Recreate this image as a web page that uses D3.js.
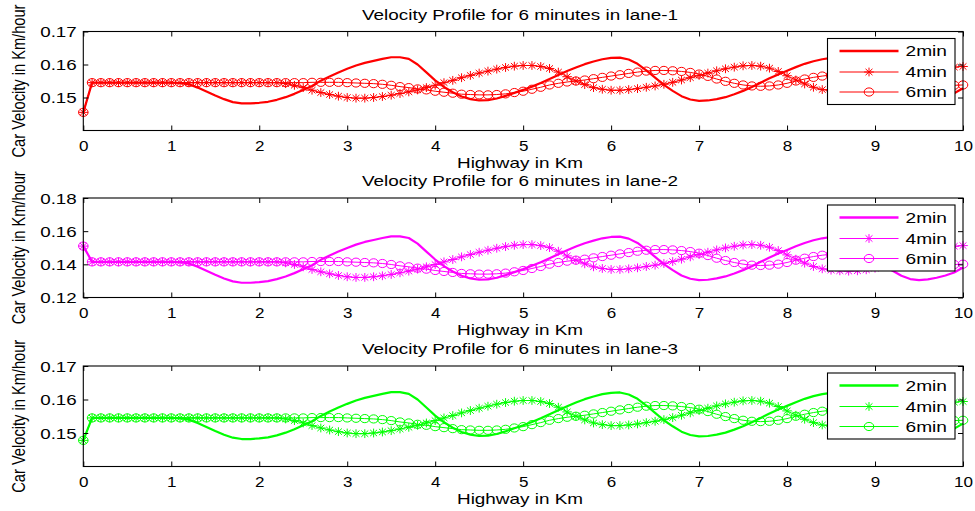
<!DOCTYPE html>
<html>
<head>
<meta charset="utf-8">
<script src="https://cdn.jsdelivr.net/npm/d3@7"></script>
<style>
  html, body { margin: 0; padding: 0; background: #fff; }
  svg { display: block; }
  text { font-family: "Liberation Sans", Arial, Helvetica, sans-serif; fill: #000; }
</style>
</head>
<body>
<svg id="chart" width="975" height="511"></svg>
<script>
// ---- data -------------------------------------------------------------
// Distance along the highway, one sample every 0.1 km
const distanceKm = d3.range(101).map(i => i / 10);
const xTicks = [0, 1, 2, 3, 4, 5, 6, 7, 8, 9, 10];
const seriesNames = ["2min", "4min", "6min"];
const laneTitles = [
  "Velocity Profile for 6 minutes in lane-1",
  "Velocity Profile for 6 minutes in lane-2",
  "Velocity Profile for 6 minutes in lane-3"
];
const laneColors = ["#ff0000", "#ff00ff", "#00ff00"];
const lane1YDomain = [0.14, 0.17];
const lane2YDomain = [0.12, 0.18];
const lane3YDomain = [0.14, 0.17];
const lane1YTicks = [0.15, 0.16, 0.17];
const lane2YTicks = [0.12, 0.14, 0.16, 0.18];
const lane3YTicks = [0.15, 0.16, 0.17];

// Lane 1 velocities (km/hour)
const lane1Min2 = [
  0.1455, 0.1545, 0.1545, 0.1545, 0.1545, 0.1545, 0.1545, 0.1545, 0.1545, 0.1545,
  0.1545, 0.1544, 0.1540, 0.1530, 0.1518, 0.1506, 0.1495, 0.1486, 0.1482, 0.1482,
  0.1484, 0.1487, 0.1493, 0.1501, 0.1511, 0.1523, 0.1535, 0.1551, 0.1564, 0.1576,
  0.1587, 0.1597, 0.1605, 0.1611, 0.1617, 0.1622, 0.1622, 0.1617, 0.1600, 0.1576,
  0.1552, 0.1532, 0.1516, 0.1503, 0.1495, 0.1491, 0.1492, 0.1497, 0.1505, 0.1514,
  0.1523, 0.1533, 0.1544, 0.1556, 0.1568, 0.1580, 0.1591, 0.1601, 0.1609, 0.1616,
  0.1620, 0.1621, 0.1615, 0.1602, 0.1582, 0.1560, 0.1538, 0.1520, 0.1504, 0.1494,
  0.1490, 0.1491, 0.1495, 0.1501, 0.1510, 0.1520, 0.1532, 0.1545, 0.1558, 0.1570,
  0.1581, 0.1592, 0.1602, 0.1610, 0.1616, 0.1620, 0.1619, 0.1613, 0.1598, 0.1577,
  0.1555, 0.1535, 0.1518, 0.1503, 0.1493, 0.1490, 0.1492, 0.1497, 0.1504, 0.1513,
  0.1528
];
const lane1Min4 = [
  0.1455, 0.1545, 0.1545, 0.1545, 0.1545, 0.1545, 0.1545, 0.1545, 0.1545, 0.1545,
  0.1545, 0.1545, 0.1545, 0.1545, 0.1545, 0.1545, 0.1545, 0.1545, 0.1545, 0.1545,
  0.1545, 0.1545, 0.1545, 0.1542, 0.1537, 0.1530, 0.1522, 0.1515, 0.1509, 0.1504,
  0.1500, 0.1498, 0.1498, 0.1500, 0.1503, 0.1507, 0.1512, 0.1517, 0.1523, 0.1530,
  0.1537, 0.1545, 0.1552, 0.1560, 0.1567, 0.1574, 0.1580, 0.1586, 0.1591, 0.1595,
  0.1597, 0.1597, 0.1594, 0.1588, 0.1577, 0.1563, 0.1550, 0.1539, 0.1530, 0.1525,
  0.1522, 0.1522, 0.1524, 0.1527, 0.1531, 0.1535, 0.1540, 0.1546, 0.1553, 0.1560,
  0.1567, 0.1574, 0.1581, 0.1587, 0.1592, 0.1596, 0.1597, 0.1595, 0.1589, 0.1579,
  0.1566, 0.1553, 0.1541, 0.1531, 0.1524, 0.1520, 0.1518, 0.1517, 0.1518, 0.1521,
  0.1526, 0.1533, 0.1541, 0.1550, 0.1559, 0.1567, 0.1575, 0.1582, 0.1588, 0.1592,
  0.1594
];
const lane1Min6 = [
  0.1455, 0.1545, 0.1545, 0.1545, 0.1545, 0.1545, 0.1545, 0.1545, 0.1545, 0.1545,
  0.1545, 0.1545, 0.1545, 0.1545, 0.1545, 0.1545, 0.1545, 0.1545, 0.1545, 0.1545,
  0.1545, 0.1545, 0.1545, 0.1545, 0.1545, 0.1545, 0.1546, 0.1546, 0.1546, 0.1546,
  0.1545, 0.1544, 0.1543, 0.1542, 0.1540, 0.1537, 0.1533, 0.1530, 0.1526, 0.1523,
  0.1519, 0.1516, 0.1513, 0.1510, 0.1509, 0.1508, 0.1508, 0.1509, 0.1511, 0.1515,
  0.1519, 0.1525, 0.1531, 0.1538, 0.1543, 0.1547, 0.1550, 0.1553, 0.1557, 0.1561,
  0.1565, 0.1569, 0.1573, 0.1577, 0.1580, 0.1582, 0.1582, 0.1581, 0.1579, 0.1576,
  0.1571, 0.1564, 0.1556, 0.1549, 0.1543, 0.1538, 0.1535, 0.1534, 0.1535, 0.1538,
  0.1543, 0.1550, 0.1556, 0.1561, 0.1565, 0.1568, 0.1570, 0.1570, 0.1567, 0.1562,
  0.1556, 0.1550, 0.1545, 0.1541, 0.1538, 0.1536, 0.1535, 0.1535, 0.1536, 0.1537,
  0.1538
];

// Lane 2 velocities (km/hour)
const lane2Min2 = [
  0.1510, 0.1415, 0.1415, 0.1415, 0.1415, 0.1415, 0.1415, 0.1415, 0.1415, 0.1415,
  0.1415, 0.1413, 0.1405, 0.1385, 0.1361, 0.1337, 0.1315, 0.1297, 0.1289, 0.1289,
  0.1293, 0.1299, 0.1311, 0.1327, 0.1347, 0.1371, 0.1395, 0.1427, 0.1453, 0.1477,
  0.1499, 0.1519, 0.1535, 0.1547, 0.1559, 0.1569, 0.1569, 0.1559, 0.1525, 0.1477,
  0.1429, 0.1389, 0.1357, 0.1331, 0.1315, 0.1307, 0.1309, 0.1319, 0.1335, 0.1353,
  0.1371, 0.1391, 0.1413, 0.1437, 0.1461, 0.1485, 0.1507, 0.1527, 0.1543, 0.1557,
  0.1565, 0.1567, 0.1555, 0.1529, 0.1489, 0.1445, 0.1401, 0.1365, 0.1333, 0.1313,
  0.1305, 0.1307, 0.1315, 0.1327, 0.1345, 0.1365, 0.1389, 0.1415, 0.1441, 0.1465,
  0.1487, 0.1509, 0.1529, 0.1545, 0.1557, 0.1565, 0.1563, 0.1551, 0.1521, 0.1479,
  0.1435, 0.1395, 0.1361, 0.1331, 0.1311, 0.1305, 0.1309, 0.1319, 0.1333, 0.1351,
  0.1381
];
const lane2Min4 = [
  0.1510, 0.1415, 0.1415, 0.1415, 0.1415, 0.1415, 0.1415, 0.1415, 0.1415, 0.1415,
  0.1415, 0.1415, 0.1415, 0.1415, 0.1415, 0.1415, 0.1415, 0.1415, 0.1415, 0.1415,
  0.1415, 0.1415, 0.1415, 0.1409, 0.1399, 0.1385, 0.1369, 0.1355, 0.1343, 0.1333,
  0.1325, 0.1321, 0.1321, 0.1325, 0.1331, 0.1339, 0.1349, 0.1359, 0.1371, 0.1385,
  0.1399, 0.1415, 0.1429, 0.1445, 0.1459, 0.1473, 0.1485, 0.1497, 0.1507, 0.1515,
  0.1519, 0.1519, 0.1513, 0.1501, 0.1479, 0.1451, 0.1425, 0.1403, 0.1385, 0.1375,
  0.1369, 0.1369, 0.1373, 0.1379, 0.1387, 0.1395, 0.1405, 0.1417, 0.1431, 0.1445,
  0.1459, 0.1473, 0.1487, 0.1499, 0.1509, 0.1517, 0.1519, 0.1515, 0.1503, 0.1483,
  0.1457, 0.1431, 0.1407, 0.1387, 0.1373, 0.1365, 0.1361, 0.1359, 0.1361, 0.1367,
  0.1377, 0.1391, 0.1407, 0.1425, 0.1443, 0.1459, 0.1475, 0.1489, 0.1501, 0.1509,
  0.1513
];
const lane2Min6 = [
  0.1510, 0.1415, 0.1415, 0.1415, 0.1415, 0.1415, 0.1415, 0.1415, 0.1415, 0.1415,
  0.1415, 0.1415, 0.1415, 0.1415, 0.1415, 0.1415, 0.1415, 0.1415, 0.1415, 0.1415,
  0.1415, 0.1415, 0.1415, 0.1415, 0.1415, 0.1415, 0.1417, 0.1417, 0.1417, 0.1417,
  0.1415, 0.1413, 0.1411, 0.1409, 0.1405, 0.1399, 0.1391, 0.1385, 0.1377, 0.1371,
  0.1363, 0.1357, 0.1351, 0.1345, 0.1343, 0.1341, 0.1341, 0.1343, 0.1347, 0.1355,
  0.1363, 0.1375, 0.1387, 0.1401, 0.1411, 0.1419, 0.1425, 0.1431, 0.1439, 0.1447,
  0.1455, 0.1463, 0.1471, 0.1479, 0.1485, 0.1489, 0.1489, 0.1487, 0.1483, 0.1477,
  0.1467, 0.1453, 0.1437, 0.1423, 0.1411, 0.1401, 0.1395, 0.1393, 0.1395, 0.1401,
  0.1411, 0.1425, 0.1437, 0.1447, 0.1455, 0.1461, 0.1465, 0.1465, 0.1459, 0.1449,
  0.1437, 0.1425, 0.1415, 0.1407, 0.1401, 0.1397, 0.1395, 0.1395, 0.1397, 0.1399,
  0.1401
];

// Lane 3 velocities (km/hour)
const lane3Min2 = [
  0.1478, 0.1545, 0.1545, 0.1545, 0.1545, 0.1545, 0.1545, 0.1545, 0.1545, 0.1545,
  0.1545, 0.1544, 0.1540, 0.1530, 0.1518, 0.1506, 0.1495, 0.1486, 0.1482, 0.1482,
  0.1484, 0.1487, 0.1493, 0.1501, 0.1511, 0.1523, 0.1535, 0.1551, 0.1564, 0.1576,
  0.1587, 0.1597, 0.1605, 0.1611, 0.1617, 0.1622, 0.1622, 0.1617, 0.1600, 0.1576,
  0.1552, 0.1532, 0.1516, 0.1503, 0.1495, 0.1491, 0.1492, 0.1497, 0.1505, 0.1514,
  0.1523, 0.1533, 0.1544, 0.1556, 0.1568, 0.1580, 0.1591, 0.1601, 0.1609, 0.1616,
  0.1620, 0.1621, 0.1615, 0.1602, 0.1582, 0.1560, 0.1538, 0.1520, 0.1504, 0.1494,
  0.1490, 0.1491, 0.1495, 0.1501, 0.1510, 0.1520, 0.1532, 0.1545, 0.1558, 0.1570,
  0.1581, 0.1592, 0.1602, 0.1610, 0.1616, 0.1620, 0.1619, 0.1613, 0.1598, 0.1577,
  0.1555, 0.1535, 0.1518, 0.1503, 0.1493, 0.1490, 0.1492, 0.1497, 0.1504, 0.1513,
  0.1528
];
const lane3Min4 = [
  0.1478, 0.1545, 0.1545, 0.1545, 0.1545, 0.1545, 0.1545, 0.1545, 0.1545, 0.1545,
  0.1545, 0.1545, 0.1545, 0.1545, 0.1545, 0.1545, 0.1545, 0.1545, 0.1545, 0.1545,
  0.1545, 0.1545, 0.1545, 0.1542, 0.1537, 0.1530, 0.1522, 0.1515, 0.1509, 0.1504,
  0.1500, 0.1498, 0.1498, 0.1500, 0.1503, 0.1507, 0.1512, 0.1517, 0.1523, 0.1530,
  0.1537, 0.1545, 0.1552, 0.1560, 0.1567, 0.1574, 0.1580, 0.1586, 0.1591, 0.1595,
  0.1597, 0.1597, 0.1594, 0.1588, 0.1577, 0.1563, 0.1550, 0.1539, 0.1530, 0.1525,
  0.1522, 0.1522, 0.1524, 0.1527, 0.1531, 0.1535, 0.1540, 0.1546, 0.1553, 0.1560,
  0.1567, 0.1574, 0.1581, 0.1587, 0.1592, 0.1596, 0.1597, 0.1595, 0.1589, 0.1579,
  0.1566, 0.1553, 0.1541, 0.1531, 0.1524, 0.1520, 0.1518, 0.1517, 0.1518, 0.1521,
  0.1526, 0.1533, 0.1541, 0.1550, 0.1559, 0.1567, 0.1575, 0.1582, 0.1588, 0.1592,
  0.1594
];
const lane3Min6 = [
  0.1478, 0.1545, 0.1545, 0.1545, 0.1545, 0.1545, 0.1545, 0.1545, 0.1545, 0.1545,
  0.1545, 0.1545, 0.1545, 0.1545, 0.1545, 0.1545, 0.1545, 0.1545, 0.1545, 0.1545,
  0.1545, 0.1545, 0.1545, 0.1545, 0.1545, 0.1545, 0.1546, 0.1546, 0.1546, 0.1546,
  0.1545, 0.1544, 0.1543, 0.1542, 0.1540, 0.1537, 0.1533, 0.1530, 0.1526, 0.1523,
  0.1519, 0.1516, 0.1513, 0.1510, 0.1509, 0.1508, 0.1508, 0.1509, 0.1511, 0.1515,
  0.1519, 0.1525, 0.1531, 0.1538, 0.1543, 0.1547, 0.1550, 0.1553, 0.1557, 0.1561,
  0.1565, 0.1569, 0.1573, 0.1577, 0.1580, 0.1582, 0.1582, 0.1581, 0.1579, 0.1576,
  0.1571, 0.1564, 0.1556, 0.1549, 0.1543, 0.1538, 0.1535, 0.1534, 0.1535, 0.1538,
  0.1543, 0.1550, 0.1556, 0.1561, 0.1565, 0.1568, 0.1570, 0.1570, 0.1567, 0.1562,
  0.1556, 0.1550, 0.1545, 0.1541, 0.1538, 0.1536, 0.1535, 0.1535, 0.1536, 0.1537,
  0.1538
];

// ---- layout -----------------------------------------------------------
const svg = d3.select("#chart");
const plotLeft = 83.3, plotRight = 963;
const x = d3.scaleLinear().domain([0, 10]).range([plotLeft, plotRight]);
const fontFamily = '"Liberation Sans", Arial, Helvetica, sans-serif';

const lanes = [
  { title: laneTitles[0], color: laneColors[0], series: [lane1Min2, lane1Min4, lane1Min6],
    yDomain: lane1YDomain, yTicks: lane1YTicks, top: 31.5, bottom: 130.5 },
  { title: laneTitles[1], color: laneColors[1], series: [lane2Min2, lane2Min4, lane2Min6],
    yDomain: lane2YDomain, yTicks: lane2YTicks, top: 198, bottom: 297.5 },
  { title: laneTitles[2], color: laneColors[2], series: [lane3Min2, lane3Min4, lane3Min6],
    yDomain: lane3YDomain, yTicks: lane3YTicks, top: 366, bottom: 466.5 }
];

// asterisk marker, slightly wider than tall
function starPath(rx, ry) {
  const ax = rx * 0.72, ay = ry * 0.72;
  return `M${-rx},0H${rx}M0,${-ry}V${ry}M${-ax},${-ay}L${ax},${ay}M${-ax},${ay}L${ax},${-ay}`;
}
const STAR = starPath(4.8, 4.4);

function styleAxis(g) {
  g.attr("font-family", fontFamily).attr("font-size", 14.5);
  g.select(".domain").remove();
  g.selectAll(".tick line").attr("stroke", "#000").attr("stroke-width", 1);
  g.selectAll(".tick text").attr("fill", "#000");
}

lanes.forEach(lane => {
  const y = d3.scaleLinear().domain(lane.yDomain).range([lane.bottom, lane.top]);
  const g = svg.append("g");
  const midY = (lane.top + lane.bottom) / 2;
  const midX = 520;

  // series curves
  const line = d3.line()
    .x((d, i) => x(distanceKm[i]))
    .y(d => y(d));

  g.append("path").datum(lane.series[0])
    .attr("d", line).attr("fill", "none")
    .attr("stroke", lane.color).attr("stroke-width", 2.2)
    .attr("stroke-linejoin", "round");

  g.append("path").datum(lane.series[1])
    .attr("d", line).attr("fill", "none")
    .attr("stroke", lane.color).attr("stroke-width", 1);
  g.append("g").selectAll("path").data(lane.series[1]).join("path")
    .attr("transform", (d, i) => `translate(${x(distanceKm[i])},${y(d)})`)
    .attr("d", STAR).attr("fill", "none")
    .attr("stroke", lane.color).attr("stroke-width", 1);

  g.append("path").datum(lane.series[2])
    .attr("d", line).attr("fill", "none")
    .attr("stroke", lane.color).attr("stroke-width", 1);
  g.append("g").selectAll("ellipse").data(lane.series[2]).join("ellipse")
    .attr("cx", (d, i) => x(distanceKm[i]))
    .attr("cy", d => y(d))
    .attr("rx", 4.8).attr("ry", 4.1)
    .attr("fill", "none").attr("stroke", lane.color).attr("stroke-width", 1);

  // axes box
  g.append("rect")
    .attr("x", plotLeft).attr("y", lane.top)
    .attr("width", plotRight - plotLeft).attr("height", lane.bottom - lane.top)
    .attr("fill", "none").attr("stroke", "#000").attr("stroke-width", 1.1);

  // bottom axis with labels, inward ticks
  const gb = g.append("g").attr("transform", `translate(0,${lane.bottom})`)
    .call(d3.axisBottom(x).tickValues(xTicks).tickSizeInner(-5).tickSizeOuter(0)
      .tickFormat(d3.format("d")));
  styleAxis(gb);
  gb.selectAll(".tick text")
    .attr("y", 20.5).attr("dy", null)
    .attr("textLength", d => String(d).length === 1 ? 9.5 : 19)
    .attr("lengthAdjust", "spacingAndGlyphs");

  // top axis, ticks only
  const gt = g.append("g").attr("transform", `translate(0,${lane.top})`)
    .call(d3.axisTop(x).tickValues(xTicks).tickSizeInner(-5).tickSizeOuter(0).tickFormat(""));
  styleAxis(gt);

  // left axis with labels
  const gl = g.append("g").attr("transform", `translate(${plotLeft},0)`)
    .call(d3.axisLeft(y).tickValues(lane.yTicks).tickSizeInner(-5).tickSizeOuter(0)
      .tickFormat(d3.format(".2f")));
  styleAxis(gl);
  gl.selectAll(".tick text")
    .attr("x", -6.6).attr("dy", "0.36em")
    .attr("textLength", 36.5).attr("lengthAdjust", "spacingAndGlyphs");

  // right axis, ticks only
  const gr = g.append("g").attr("transform", `translate(${plotRight},0)`)
    .call(d3.axisRight(y).tickValues(lane.yTicks).tickSizeInner(-5).tickSizeOuter(0).tickFormat(""));
  styleAxis(gr);

  // title
  g.append("text")
    .attr("x", midX).attr("y", lane.top - 12)
    .attr("text-anchor", "middle").attr("font-size", 14)
    .attr("textLength", 316).attr("lengthAdjust", "spacingAndGlyphs")
    .text(lane.title);

  // x label
  g.append("text")
    .attr("x", midX).attr("y", lane.bottom + 37)
    .attr("text-anchor", "middle").attr("font-size", 14.5)
    .attr("textLength", 126).attr("lengthAdjust", "spacingAndGlyphs")
    .text("Highway in Km");

  // y label
  g.append("text")
    .attr("transform", `translate(25,${midY}) scale(1.28,1) rotate(-90)`)
    .attr("text-anchor", "middle").attr("font-size", 15)
    .attr("textLength", 153).attr("lengthAdjust", "spacingAndGlyphs")
    .text("Car Velocity in Km/hour");

  // legend
  const lg = g.append("g").attr("transform", `translate(827.5,${lane.top + 7})`);
  lg.append("rect").attr("width", 127.5).attr("height", 66)
    .attr("fill", "#fff").attr("stroke", "#000").attr("stroke-width", 1.1);
  const rowY = [12.5, 33.5, 53.5];
  seriesNames.forEach((name, k) => {
    const ry = rowY[k];
    lg.append("line").attr("x1", 12).attr("x2", 71).attr("y1", ry).attr("y2", ry)
      .attr("stroke", lane.color).attr("stroke-width", k === 0 ? 2.4 : 1);
    if (k === 1) {
      lg.append("path").attr("transform", `translate(41.5,${ry})`).attr("d", STAR)
        .attr("fill", "none").attr("stroke", lane.color);
    }
    if (k === 2) {
      lg.append("ellipse").attr("cx", 41.5).attr("cy", ry).attr("rx", 4.8).attr("ry", 4.1)
        .attr("fill", "none").attr("stroke", lane.color);
    }
    lg.append("text").attr("x", 78).attr("y", ry + 5).attr("font-size", 14.5)
      .attr("textLength", 41.5).attr("lengthAdjust", "spacingAndGlyphs")
      .text(name);
  });
});
</script>
</body>
</html>
